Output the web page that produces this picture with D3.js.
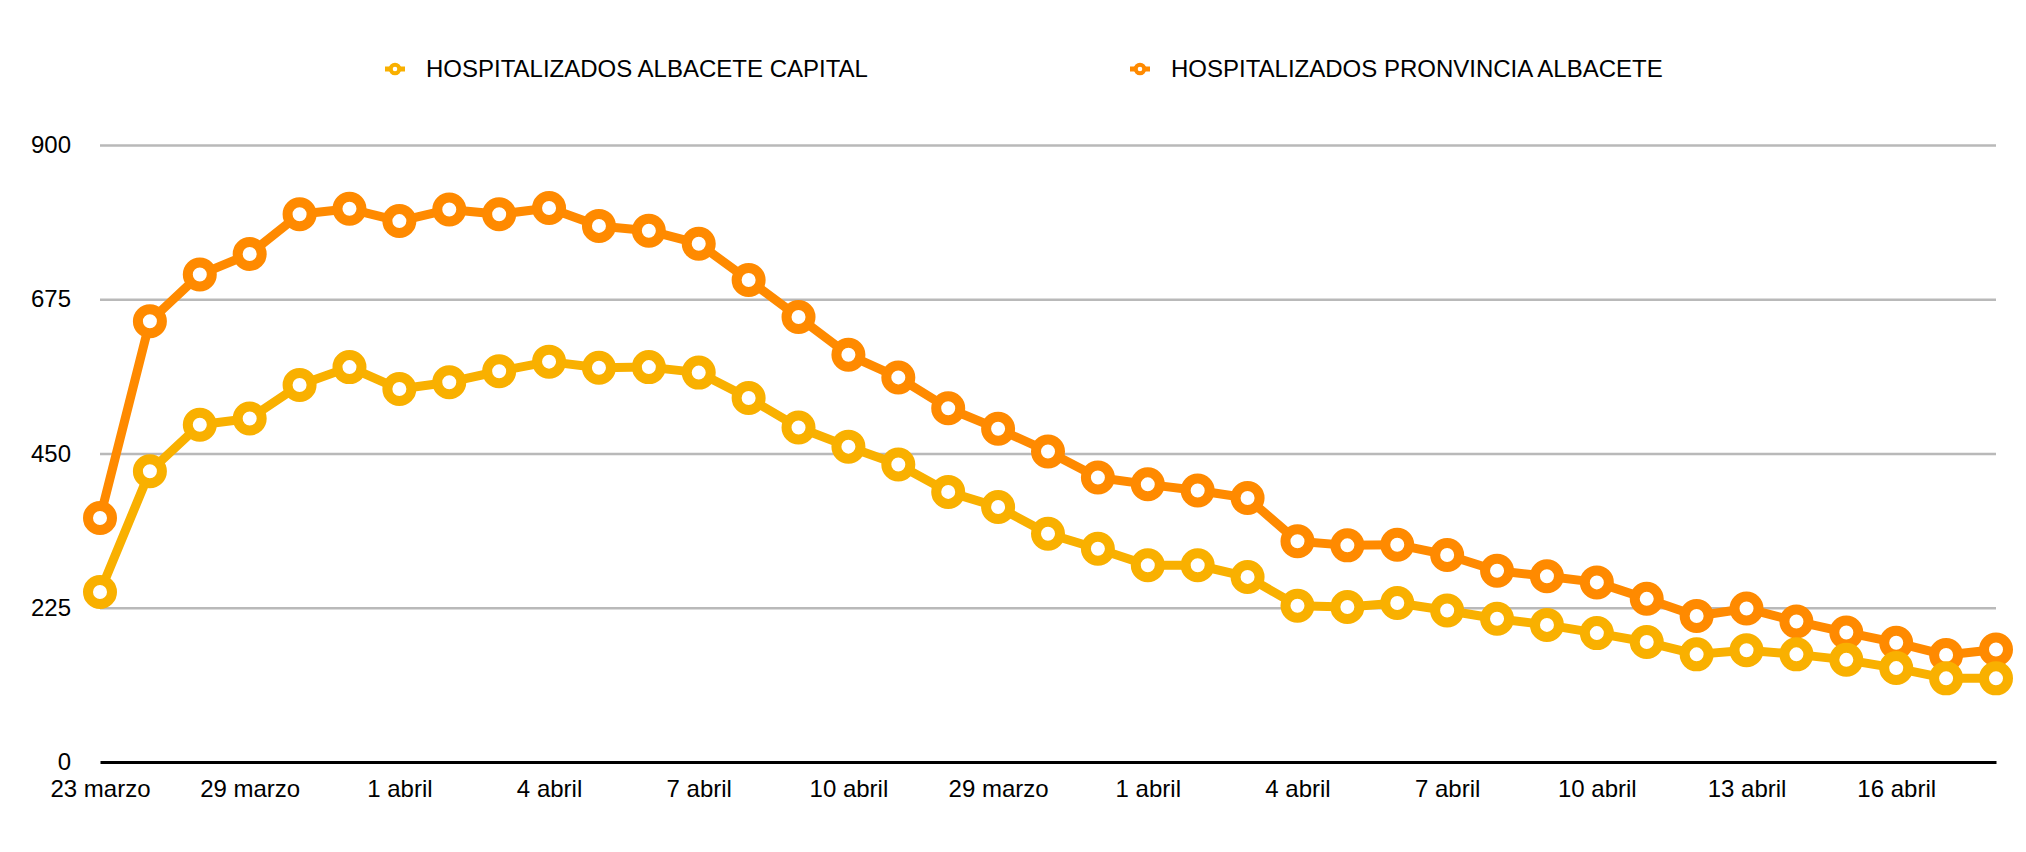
<!DOCTYPE html>
<html lang="es">
<head>
  <meta charset="UTF-8">
  <script src="https://d3js.org/d3.v7.min.js"></script>
  <style>
    body { margin: 0; background: white; }
    text { font-family: "Liberation Sans", Arial, Helvetica, sans-serif; fill: black; }
  </style>
</head>
<body>
<div id="chart"></div>
<script>
// series, in the order they appear in the legend
const seriesNames = ["HOSPITALIZADOS ALBACETE CAPITAL", "HOSPITALIZADOS PRONVINCIA ALBACETE"];
const capital = [248, 424, 492, 501, 550, 576, 544, 554, 570, 584, 575, 576, 568, 531, 488, 460, 434, 394, 372, 333,
                 311, 287, 287, 270, 228, 226, 232, 221, 209, 200, 188, 175, 157, 163, 157, 149, 137, 122, 122];
const provincia = [356, 643, 711, 741, 799, 807, 789, 806, 799, 808, 782, 775, 756, 703, 649, 594, 561, 516, 486, 453,
                   415, 405, 396, 385, 322, 316, 317, 302, 279, 271, 262, 238, 213, 224, 205, 189, 174, 156, 164];
// x labels shown every third point
const tickLabels = ["23 marzo", "29 marzo", "1 abril", "4 abril", "7 abril", "10 abril", "29 marzo",
                    "1 abril", "4 abril", "7 abril", "10 abril", "13 abril", "16 abril"];
const yTicks = [0, 225, 450, 675, 900];

const W = 2026, H = 852;
const colors = ["#F9B000", "#FF8A00"];

const svg = d3.select("#chart").append("svg")
  .attr("width", W).attr("height", H);

const x = d3.scalePoint().domain(d3.range(capital.length)).range([100, 1996]);
const y = d3.scaleLinear().domain([0, 900]).range([762, 145]);

// grid + y labels
const yaxis = d3.axisLeft(y).tickValues(yTicks).tickSize(-(1996 - 100)).tickPadding(29);
const gy = svg.append("g").attr("transform", "translate(100,0)").call(yaxis);
gy.select(".domain").remove();
gy.selectAll(".tick line").attr("stroke", "#b9b9b9").attr("stroke-width", 2.5)
  .filter(d => d === 0).remove();
gy.selectAll(".tick text").attr("font-size", 24).attr("font-family", "Liberation Sans, Arial, sans-serif");

// x axis
const xaxis = d3.axisBottom(x)
  .tickValues(d3.range(0, capital.length, 3))
  .tickFormat((d, i) => tickLabels[i])
  .tickSize(0).tickPadding(18);
const gx = svg.append("g").attr("transform", "translate(0,762)").call(xaxis);
gx.select(".domain").attr("stroke", "black").attr("stroke-width", 3);
gx.selectAll(".tick text").attr("font-size", 24).attr("font-family", "Liberation Sans, Arial, sans-serif");

const line = d3.line().x((d, i) => x(i)).y(d => y(d));

// provincia drawn first, capital on top
[[provincia, colors[1]], [capital, colors[0]]].forEach(([vals, c]) => {
  svg.append("path")
    .datum(vals)
    .attr("d", line)
    .attr("fill", "none")
    .attr("stroke", c)
    .attr("stroke-width", 9)
    .attr("stroke-linejoin", "round");
  svg.append("g").selectAll("circle")
    .data(vals)
    .enter()
    .append("circle")
    .attr("cx", (d, i) => x(i))
    .attr("cy", d => y(d))
    .attr("r", 12)
    .attr("fill", "white")
    .attr("stroke", c)
    .attr("stroke-width", 10);
});

// legend
const legendX = [395, 1140];
seriesNames.forEach((name, i) => {
  const g = svg.append("g").attr("transform", `translate(${legendX[i]},69)`);
  g.append("line").attr("x1", -10).attr("x2", 10)
    .attr("stroke", colors[i]).attr("stroke-width", 5);
  g.append("circle").attr("r", 4.3)
    .attr("fill", "white").attr("stroke", colors[i]).attr("stroke-width", 4);
  g.append("text")
    .attr("x", 31)
    .attr("dy", "0.35em")
    .attr("font-size", 24)
    .text(name);
});
</script>
</body>
</html>
